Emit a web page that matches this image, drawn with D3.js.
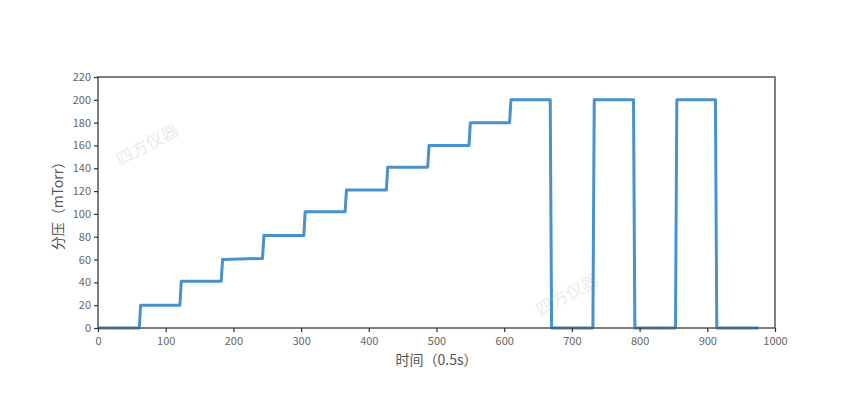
<!DOCTYPE html>
<html><head><meta charset="utf-8">
<script src="https://cdn.jsdelivr.net/npm/d3@7"></script>
<style>body{margin:0;background:#fff}svg{display:block}</style>
</head><body>
<svg id="c" width="844" height="409"></svg>
<script>
const time = [0, 61, 63, 121, 123, 182, 184, 243, 245, 304, 306, 365, 367, 426, 428, 487, 489, 548, 550, 608, 610, 668, 670, 731, 733, 791, 793, 853, 855, 912, 914, 975];
const pressure = [0, 0, 20, 20, 41, 41, 60, 61, 81, 81, 102, 102, 121, 121, 141, 141, 160, 160, 180, 180, 200, 200, 0, 0, 200, 200, 0, 0, 200, 200, 0, 0];
const xTicks = [0,100,200,300,400,500,600,700,800,900,1000];
const yTicks = [0,20,40,60,80,100,120,140,160,180,200,220];
const xLabel = "时间（0.5s）";
const yLabel = "分压（mTorr）";
const watermark = "四方仪器";

const svg = d3.select("#c");
const m = {l:98, r:775, t:77, b:328};
const x = d3.scaleLinear().domain([0,1000]).range([m.l, m.r]);
const y = d3.scaleLinear().domain([0,220]).range([m.b, m.t]);
const font = "'Noto Sans CJK SC','Noto Sans',sans-serif";

// watermarks
[[150,150],[570,300]].forEach(([wx,wy])=>{
  svg.append("text").attr("transform",`translate(${wx},${wy}) rotate(-28)`)
    .attr("font-family",font).attr("font-size",17).attr("fill","#ebebeb")
    .attr("text-anchor","middle").text(watermark);
});

const data = time.map((t,i)=>[t,pressure[i]]);
svg.append("path").datum(data)
  .attr("d", d3.line().x(d=>x(d[0])).y(d=>y(d[1])))
  .attr("fill","none").attr("stroke","#4791cc").attr("stroke-width",3)
  .attr("stroke-linejoin","round");

// frame
svg.append("rect").attr("x",m.l).attr("y",m.t).attr("width",m.r-m.l).attr("height",m.b-m.t)
  .attr("fill","none").attr("stroke","#555").attr("stroke-width",1.5);

const xAxis = svg.append("g").attr("transform",`translate(0,${m.b})`)
  .call(d3.axisBottom(x).tickValues(xTicks).tickSize(4).tickPadding(5).tickFormat(d3.format("d")));
const yAxis = svg.append("g").attr("transform",`translate(${m.l},0)`)
  .call(d3.axisLeft(y).tickValues(yTicks).tickSize(4).tickPadding(3).tickFormat(d3.format("d")));
[xAxis,yAxis].forEach(a=>{
  a.select(".domain").remove();
  a.selectAll(".tick line").attr("stroke","#333").attr("stroke-width",1.2);
  a.selectAll(".tick text").attr("fill","#666").attr("font-size",11).attr("font-family",font);
});

svg.append("text").attr("x",(m.l+m.r)/2).attr("y",365).attr("text-anchor","middle")
  .attr("font-family",font).attr("font-size",14).attr("fill","#555").text(xLabel);
svg.append("text").attr("transform",`translate(63,${(m.t+m.b)/2}) rotate(-90)`).attr("text-anchor","middle")
  .attr("font-family",font).attr("font-size",14).attr("fill","#555").text(yLabel);
</script>
</body></html>
